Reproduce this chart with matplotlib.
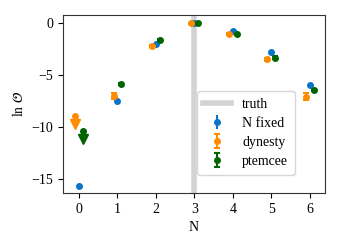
import numpy as np
import matplotlib
matplotlib.use("Agg")
import matplotlib.pyplot as plt

plt.rcParams["font.family"] = ["Liberation Serif", "DejaVu Serif"]
plt.rcParams["mathtext.fontset"] = "stix"
plt.rcParams["font.size"] = 10

N = np.arange(7)
truth_N = 3

# ln O values per method
fixed_lnO = [-15.6, -7.5, -2.0, 0.0, -0.75, -2.8, -5.9]
fixed_err = [0.05, 0.1, 0.1, 0.05, 0.1, 0.1, 0.1]

dynesty_lnO = [-8.9, -7.0, -2.2, 0.0, -1.0, -3.45, -7.05]
dynesty_err = [0.8, 0.3, 0.1, 0.05, 0.1, 0.15, 0.35]
dynesty_lim = [True, False, False, False, False, False, False]

ptemcee_lnO = [-10.35, -5.85, -1.65, 0.0, -1.05, -3.3, -6.4]
ptemcee_err = [0.8, 0.1, 0.1, 0.05, 0.1, 0.1, 0.1]
ptemcee_lim = [True, False, False, False, False, False, False]

blue = "#0a74c9"
orange = "#ff8c00"
green = "#006400"

fig = plt.figure(figsize=(3.4, 2.52), dpi=100)
ax = fig.add_axes([0.185, 0.234, 0.771, 0.706])

ax.axvline(truth_N, color="lightgray", lw=4, label="truth", zorder=0)

ax.errorbar(N, fixed_lnO, yerr=fixed_err, fmt="o", ms=4, color=blue,
            elinewidth=1.5, capsize=0, label="N fixed")


def plot_method(x, y, err, lim, color, label):
    x = np.asarray(x)
    y = np.asarray(y)
    err = np.asarray(err)
    lim = np.asarray(lim)
    ok = ~lim
    ax.errorbar(x[ok], y[ok], yerr=err[ok], fmt="o", ms=4, color=color,
                elinewidth=1.5, capsize=2, capthick=1.5, label=label)
    # upper limits: stem down from the point, arrow head at the end
    ax.errorbar(x[lim], y[lim], yerr=[err[lim], np.zeros(lim.sum())], fmt="o",
                ms=4, color=color, elinewidth=1.5, capsize=0)
    ax.plot(x[lim], y[lim] - err[lim], "v", ms=7, color=color)


plot_method(N - 0.1, dynesty_lnO, dynesty_err, dynesty_lim, orange, "dynesty")
plot_method(N + 0.1, ptemcee_lnO, ptemcee_err, ptemcee_lim, green, "ptemcee")

ax.set_xlim(-0.42, 6.4)
ax.set_ylim(-16.3, 0.77)
ax.set_xticks(N)
ax.set_yticks([0, -5, -10, -15])
ax.set_xlabel("N")
ax.set_ylabel(r"$\ln\,\mathcal{O}$")
for s in ax.spines.values():
    s.set_color("#333333")

ax.legend(loc="lower right", bbox_to_anchor=(0.91, 0.065), fontsize=10,
          borderpad=0.45, handlelength=2.0, labelspacing=0.45)

fig.savefig("out.png", dpi=100)
